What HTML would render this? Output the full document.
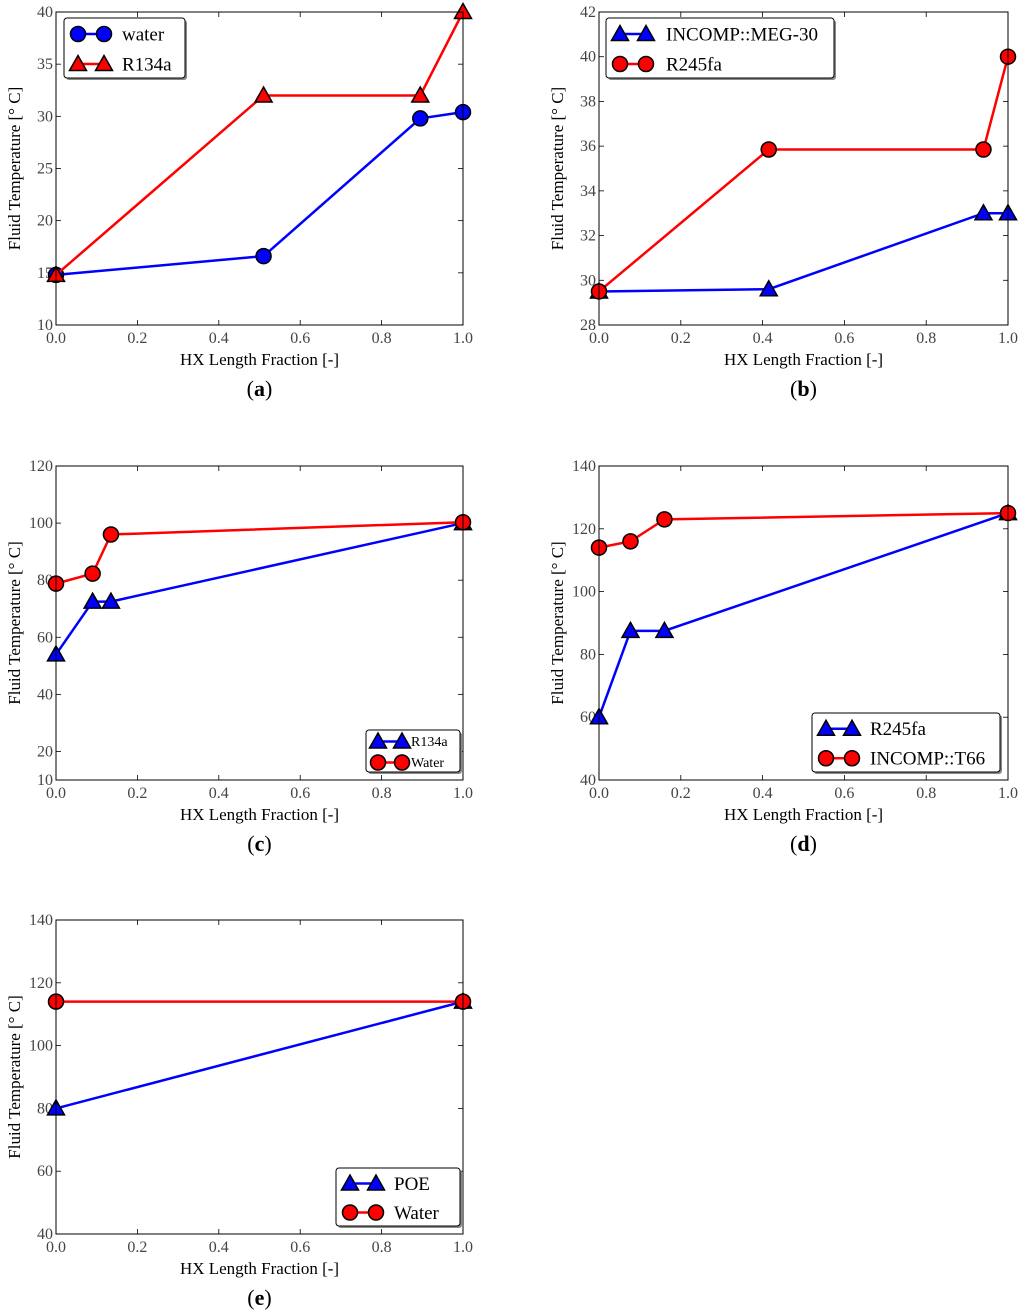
<!DOCTYPE html>
<html><head><meta charset="utf-8"><style>
html,body{margin:0;padding:0;background:#fff;}
svg{display:block;font-family:"Liberation Serif",serif;}
</style></head><body>
<svg id="fig" width="1024" height="1313" viewBox="0 0 1024 1313" xmlns="http://www.w3.org/2000/svg"></svg>
<script>
// Panel (a)
const aX = [0, 0.51, 0.895, 1.0];
const aWater = [14.8, 16.6, 29.8, 30.4];
const aR134a = [14.8, 32, 32, 40];
const aYTicks = [10, 15, 20, 25, 30, 35, 40];
// Panel (b)
const bX = [0, 0.415, 0.94, 1.0];
const bMEG = [29.5, 29.6, 33, 33];
const bR245fa = [29.5, 35.85, 35.85, 40];
const bYTicks = [28, 30, 32, 34, 36, 38, 40, 42];
// Panel (c)
const cX = [0, 0.09, 0.135, 1.0];
const cR134a = [54, 72.5, 72.5, 100];
const cWater = [78.8, 82.3, 96, 100.3];
const cYTicks = [20, 40, 60, 80, 100, 120];
// Panel (d)
const dX = [0, 0.077, 0.16, 1.0];
const dR245fa = [60, 87.5, 87.5, 125];
const dT66 = [114, 116, 123, 125];
const dYTicks = [40, 60, 80, 100, 120, 140];
// Panel (e)
const eX = [0, 1.0];
const ePOE = [80, 114];
const eWater = [114, 114];
const eYTicks = [40, 60, 80, 100, 120, 140];
const xTicks = [0, 0.2, 0.4, 0.6, 0.8, 1.0];

const NS = "http://www.w3.org/2000/svg";
const svg = document.getElementById('fig');
function mk(tag, attrs, parent) {
  const e = document.createElementNS(NS, tag);
  for (const k in attrs) e.setAttribute(k, attrs[k]);
  (parent || svg).appendChild(e);
  return e;
}
function marker(g, kind, color, px, py, s) {
  s = s || 1;
  if (kind === 'circle') {
    return mk('circle', {cx: px, cy: py, r: 7.5 * s, fill: color, stroke: '#000', 'stroke-width': 1.5}, g);
  }
  return mk('polygon', {points: `${px},${py-8.5*s} ${px-8.5*s},${py+6.5*s} ${px+8.5*s},${py+6.5*s}`, fill: color, stroke: '#000', 'stroke-width': 1.5}, g);
}
function panel(opt) {
  const g = mk('g', {});
  
  
  const L = opt.x0, R = opt.x1, T = opt.y0, B = opt.y1;
  const sx = v => L + v * (R - L);
  const sy = v => B - (v - opt.ymin) / (opt.ymax - opt.ymin) * (B - T);
  xTicks.forEach(t => {
    const x = sx(t);
    mk('line', {x1: x, x2: x, y1: B, y2: B - 5, stroke: '#000', 'stroke-width': 0.8}, g);
    mk('line', {x1: x, x2: x, y1: T, y2: T + 5, stroke: '#000', 'stroke-width': 0.8}, g);
    const tx = mk('text', {x: x, y: B + 18, 'text-anchor': 'middle', 'font-size': 16, fill: '#444'}, g);
    tx.textContent = t.toFixed(1);
    
    
  });
  const yt = opt.yticks.includes(opt.ymin) ? opt.yticks : opt.yticks.concat([opt.ymin]);
  yt.forEach(t => {
    const y = sy(t);
    mk('line', {x1: L, x2: L + 5, y1: y, y2: y, stroke: '#000', 'stroke-width': 0.8}, g);
    mk('line', {x1: R, x2: R - 5, y1: y, y2: y, stroke: '#000', 'stroke-width': 0.8}, g);
    const ty = mk('text', {x: L - 3, y: y + 5, 'text-anchor': 'end', 'font-size': 16, fill: '#444'}, g);
    ty.textContent = t;
    
    
  });
  opt.series.forEach(s => {
    const sg = mk('g', {}, g);
    
    
    const pts = s.x.map((v, i) => sx(v) + ',' + sy(s.y[i])).join(' ');
    mk('polyline', {points: pts, fill: 'none', stroke: s.color, 'stroke-width': 2.5}, sg);
    s.x.forEach((v, i) => {
      const m = marker(sg, s.kind, s.color, sx(v), sy(s.y[i]));
      
      
    });
  });
  mk('rect', {x: L, y: T, width: R - L, height: B - T, fill: 'none', stroke: '#000', 'stroke-width': 1}, g);
  const xl = mk('text', {x: (L + R) / 2, y: B + 40, 'text-anchor': 'middle', 'font-size': 17}, g);
  xl.textContent = 'HX Length Fraction [-]';
  
  
  const yc = (T + B) / 2;
  const yl = mk('text', {x: L - 36, y: yc, 'text-anchor': 'middle', 'font-size': 17, transform: `rotate(-90 ${L - 36} ${yc})`}, g);
  yl.textContent = 'Fluid Temperature [° C]';
  
  
  const pl = mk('text', {x: (L + R) / 2, y: B + 71, 'text-anchor': 'middle', 'font-size': 22}, g);
  pl.innerHTML = '(<tspan font-weight="bold">' + opt.id + '</tspan>)';
  
  
  const lg = mk('g', {}, g);
  
  
  const lb = opt.legend;
  mk('rect', {x: lb.x + 2, y: lb.y + 2, width: lb.w, height: lb.h, rx: 3, fill: '#888'}, lg);
  mk('rect', {x: lb.x, y: lb.y, width: lb.w, height: lb.h, rx: 3, fill: '#fff', stroke: '#000', 'stroke-width': 1}, lg);
  opt.series.forEach((s, i) => {
    const ey = lb.y + lb.h / 4 + i * lb.h / 2 + 1;
    const eg = mk('g', {}, lg);
    
    
    const m1 = lb.x + lb.m0, m2 = lb.x + lb.m0 + lb.ms;
    mk('line', {x1: m1, x2: m2, y1: ey, y2: ey, stroke: s.color, 'stroke-width': 2.5}, eg);
    marker(eg, s.kind, s.color, m1, ey, lb.sc);
    marker(eg, s.kind, s.color, m2, ey, lb.sc);
    const t = mk('text', {x: lb.x + lb.tx, y: ey + lb.fs * 0.33, 'font-size': lb.fs}, eg);
    t.textContent = s.name;
  });
}
panel({id: 'a', x0: 56, x1: 463, y0: 12, y1: 325, ymin: 10, ymax: 40, yticks: aYTicks,
  series: [{name: 'water', x: aX, y: aWater, color: '#0000ff', kind: 'circle'},
           {name: 'R134a', x: aX, y: aR134a, color: '#ff0000', kind: 'tri'}],
  legend: {x: 64, y: 18, w: 121, h: 60, fs: 19, m0: 14, ms: 26, tx: 58, sc: 1}});
panel({id: 'b', x0: 599, x1: 1008, y0: 12, y1: 325, ymin: 28, ymax: 42, yticks: bYTicks,
  series: [{name: 'INCOMP::MEG-30', x: bX, y: bMEG, color: '#0000ff', kind: 'tri'},
           {name: 'R245fa', x: bX, y: bR245fa, color: '#ff0000', kind: 'circle'}],
  legend: {x: 606, y: 18, w: 228, h: 60, fs: 19, m0: 14, ms: 26, tx: 60, sc: 1}});
panel({id: 'c', x0: 56, x1: 463, y0: 466, y1: 780, ymin: 10, ymax: 120, yticks: cYTicks,
  series: [{name: 'R134a', x: cX, y: cR134a, color: '#0000ff', kind: 'tri'},
           {name: 'Water', x: cX, y: cWater, color: '#ff0000', kind: 'circle'}],
  legend: {x: 366, y: 730, w: 94, h: 42, fs: 14, m0: 12, ms: 24, tx: 45, sc: 1}});
panel({id: 'd', x0: 599, x1: 1008, y0: 466, y1: 780, ymin: 40, ymax: 140, yticks: dYTicks,
  series: [{name: 'R245fa', x: dX, y: dR245fa, color: '#0000ff', kind: 'tri'},
           {name: 'INCOMP::T66', x: dX, y: dT66, color: '#ff0000', kind: 'circle'}],
  legend: {x: 812, y: 713, w: 188, h: 59, fs: 19, m0: 14, ms: 26, tx: 58, sc: 1}});
panel({id: 'e', x0: 56, x1: 463, y0: 920, y1: 1234, ymin: 40, ymax: 140, yticks: eYTicks,
  series: [{name: 'POE', x: eX, y: ePOE, color: '#0000ff', kind: 'tri'},
           {name: 'Water', x: eX, y: eWater, color: '#ff0000', kind: 'circle'}],
  legend: {x: 336, y: 1168, w: 124, h: 58, fs: 19, m0: 14, ms: 26, tx: 58, sc: 1}});
</script>
</body></html>
